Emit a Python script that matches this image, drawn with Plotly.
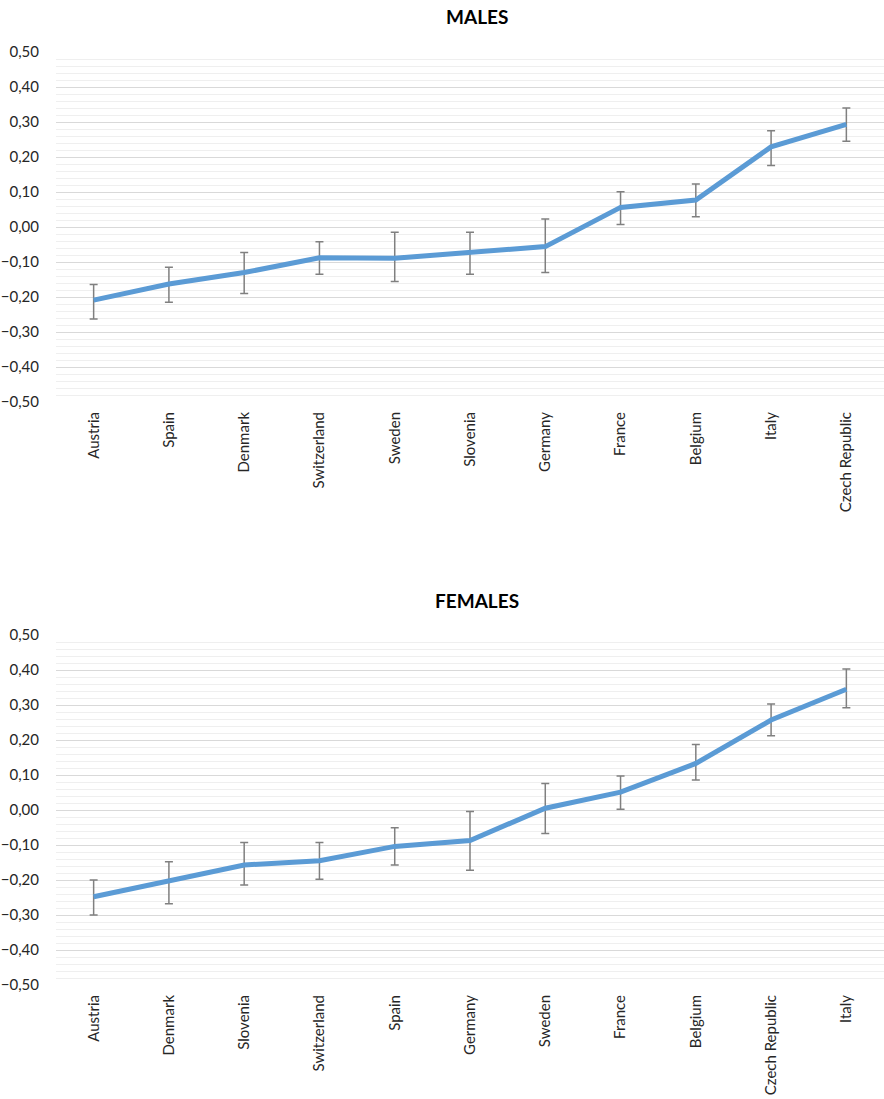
import plotly.graph_objects as go

# Males
male_countries = ["Austria", "Spain", "Denmark", "Switzerland", "Sweden", "Slovenia",
                  "Germany", "France", "Belgium", "Italy", "Czech Republic"]
male_values = [-0.209, -0.163, -0.130, -0.088, -0.089, -0.072, -0.056, 0.056, 0.077, 0.229, 0.293]
male_upper = [-0.164, -0.115, -0.073, -0.042, -0.015, -0.015, 0.023, 0.101, 0.123, 0.275, 0.340]
male_lower = [-0.263, -0.215, -0.190, -0.135, -0.156, -0.135, -0.130, 0.007, 0.029, 0.176, 0.245]

# Females
female_countries = ["Austria", "Denmark", "Slovenia", "Switzerland", "Spain", "Germany",
                    "Sweden", "France", "Belgium", "Czech Republic", "Italy"]
female_values = [-0.248, -0.203, -0.157, -0.145, -0.104, -0.087, 0.005, 0.051, 0.133, 0.257, 0.345]
female_upper = [-0.200, -0.148, -0.093, -0.093, -0.051, -0.004, 0.076, 0.097, 0.187, 0.303, 0.403]
female_lower = [-0.300, -0.268, -0.214, -0.198, -0.157, -0.172, -0.067, 0.002, 0.086, 0.212, 0.292]

titles = ["MALES", "FEMALES"]
tick_vals = [-0.5, -0.4, -0.3, -0.2, -0.1, 0.0, 0.1, 0.2, 0.3, 0.4, 0.5]

LINE = "#5B9BD5"
ERR = "#808080"
FONT = "Lato, 'Open Sans', sans-serif"
TXT = "#262626"

fig = go.Figure()

def add(countries, vals, up, lo, xa, ya):
    plus = [u - v for u, v in zip(up, vals)]
    minus = [v - l for v, l in zip(vals, lo)]
    fig.add_trace(go.Scatter(
        x=countries, y=vals, mode="lines",
        line=dict(color=LINE, width=5),
        error_y=dict(type="data", symmetric=False, array=plus, arrayminus=minus,
                     color=ERR, thickness=1.5, width=4),
        xaxis=xa, yaxis=ya, showlegend=False, hoverinfo="skip"))

add(male_countries, male_values, male_upper, male_lower, "x", "y")
add(female_countries, female_values, female_upper, female_lower, "x2", "y2")

H = 1099.0
def dom(top, bot):
    return [1 - bot / H, 1 - top / H]

yaxis_common = dict(
    range=[-0.5, 0.5], tickvals=tick_vals, tickformat=".2f",
    showgrid=True, gridcolor="#D9D9D9", gridwidth=1.3, zeroline=False,
    showline=False, ticks="", ticklabelstandoff=16, automargin=False,
    tickfont=dict(family=FONT, size=15, color=TXT),
    minor=dict(dtick=0.02, tick0=0, showgrid=True, gridcolor="#EFEFEF", gridwidth=1),
    fixedrange=True,
)
xaxis_common = dict(
    type="category", range=[-0.5, 10.5], tickangle=-90, showgrid=False,
    showline=False, ticks="", zeroline=False, automargin=False, ticklabelstandoff=6,
    tickfont=dict(family=FONT, size=15, color=TXT),
    fixedrange=True,
)

fig.update_layout(
    width=884, height=1099,
    margin=dict(l=56, r=0, t=0, b=0, autoexpand=False),
    paper_bgcolor="white", plot_bgcolor="white",
    separators=", ",
    xaxis=dict(domain=[0, 1], anchor="y", **xaxis_common),
    yaxis=dict(domain=dom(52, 402), anchor="x", **yaxis_common),
    xaxis2=dict(domain=[0, 1], anchor="y2", **xaxis_common),
    yaxis2=dict(domain=dom(635, 985), anchor="x2", **yaxis_common),
    annotations=[
        dict(text="<b>" + titles[0] + "</b>", x=449 / 884, y=1 - 17 / H, xref="paper", yref="paper",
             xanchor="center", yanchor="middle", showarrow=False,
             font=dict(family=FONT, size=19, color="#000000")),
        dict(text="<b>" + titles[1] + "</b>", x=449 / 884, y=1 - 600 / H, xref="paper", yref="paper",
             xanchor="center", yanchor="middle", showarrow=False,
             font=dict(family=FONT, size=19, color="#000000")),
    ],
)

fig.write_html(
    "out.html",
    config={"displayModeBar": False, "responsive": False},
    post_script="document.body.style.margin='0';document.body.style.padding='0';"
                "document.body.style.overflow='hidden';document.documentElement.style.overflow='hidden';",
)
